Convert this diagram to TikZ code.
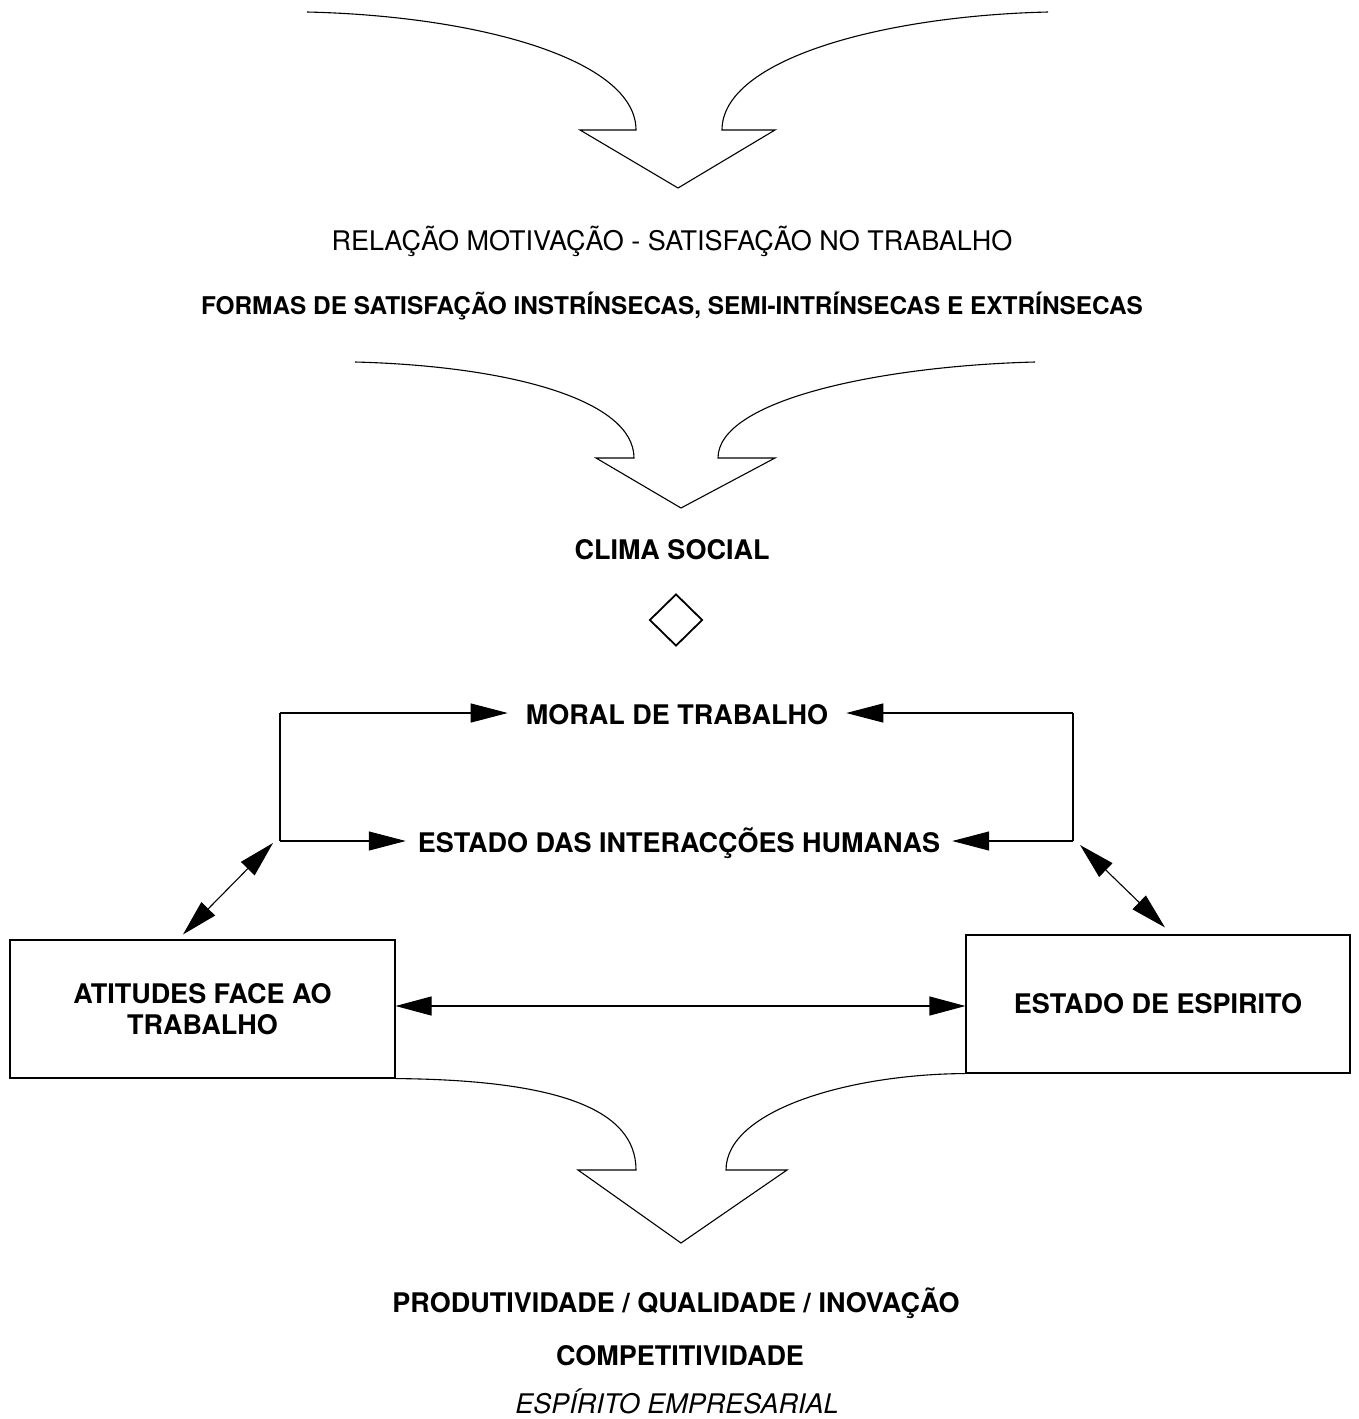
\documentclass[tikz,border=0pt]{standalone}
\usepackage{fontspec}
\setmainfont{TeX Gyre Heros}
\usetikzlibrary{arrows.meta,shapes.geometric}
\tikzset{
  ln/.style={line width=1.1pt, line join=miter},
  tipto/.style={ln, -{Triangle[length=37pt,width=19pt]}},
  dbl/.style={ln, {Triangle[length=36pt,width=19pt]}-{Triangle[length=36pt,width=19pt]}},
  boldtxt/.style={font=\fontsize{27}{31}\selectfont\bfseries, inner sep=0pt, anchor=base},
  lighttxt/.style={font=\fontsize{27}{31}\selectfont, inner sep=0pt, anchor=base},
  boxnode/.style={draw, line width=1.1pt, minimum width=385pt, minimum height=138pt,
    align=center, font=\fontsize{27}{31}\selectfont\bfseries, inner sep=0pt},
  funnel/.style={line width=1.1pt, line join=miter}
}
\begin{document}
\begin{tikzpicture}[x=1pt,y=-1pt]
\useasboundingbox (0,0) rectangle (1359,1419);

% funnel 1
\draw[funnel] (307,12) .. controls (480,16) and (636,60) .. (636,130)
  -- (580,130) -- (678,188) -- (775,130) -- (722,130)
  .. controls (722,60) and (880,16) .. (1048,12);

\node[lighttxt] (rel) at (672,250) {RELAÇÃO MOTIVAÇÃO - SATISFAÇÃO NO TRABALHO};
\node[boldtxt, font=\fontsize{24.4}{28}\selectfont\bfseries] (formas) at (672,314)
  {FORMAS DE SATISFAÇÃO INSTRÍNSECAS, SEMI-INTRÍNSECAS E EXTRÍNSECAS};

% funnel 2
\draw[funnel] (355,362) .. controls (510,366) and (634,400) .. (634,458)
  -- (596,458) -- (681,508) -- (775,458) -- (718,458)
  .. controls (718,400) and (880,366) .. (1035,362);

\node[boldtxt] (clima) at (672,559) {CLIMA SOCIAL};

\node[draw, diamond, line width=1.8pt, minimum width=53pt, minimum height=52pt, inner sep=0pt] (dia) at (676,620) {};

\node[boldtxt, inner xsep=18pt] (moral) at (677,724) {MORAL DE TRABALHO};
\node[boldtxt, inner xsep=12pt] (estado) at (679,852) {ESTADO DAS INTERACÇÕES HUMANAS};

\coordinate (tl) at (280,713);
\coordinate (bl) at (280,841);
\coordinate (tr) at (1073,713);
\coordinate (br) at (1073,841);
\draw[ln] (tl) -- (bl);
\draw[ln] (tr) -- (br);
\draw[tipto] (tl) -- (tl -| moral.west);
\draw[tipto] (tr) -- (tr -| moral.east);
\draw[tipto] (bl) -- (bl -| estado.west);
\draw[tipto] (br) -- (br -| estado.east);

\node[boxnode] (lbox) at (202.5,1009) {ATITUDES FACE AO\\TRABALHO};
\node[boxnode, minimum width=384pt] (rbox) at (1158,1004) {ESTADO DE ESPIRITO};

\coordinate (hl) at (0,1006);
\draw[dbl] (lbox.east |- hl) -- (rbox.west |- hl);

\draw[dbl] ([xshift=-19.5pt,yshift=5pt]lbox.north) -- ([xshift=-7pt,yshift=-2pt]bl);
\draw[dbl] ([xshift=7pt,yshift=-4pt]br) -- ([xshift=7pt,yshift=7pt]rbox.north);

% funnel 3
\draw[funnel] (lbox.south east) .. controls (560,1080) and (636,1110) .. (636,1170)
  -- (578,1170) -- (681,1243) -- (787,1170) -- (726,1170)
  .. controls (726,1110) and (850,1074) .. (rbox.south west);

\node[boldtxt] (prod) at (676,1312) {PRODUTIVIDADE / QUALIDADE / INOVAÇÃO};
\node[boldtxt] (comp) at (680,1365) {COMPETITIVIDADE};
\node[lighttxt, font=\fontsize{27}{31}\selectfont\itshape] (esp) at (677,1413) {ESPÍRITO EMPRESARIAL};
\end{tikzpicture}
\end{document}
